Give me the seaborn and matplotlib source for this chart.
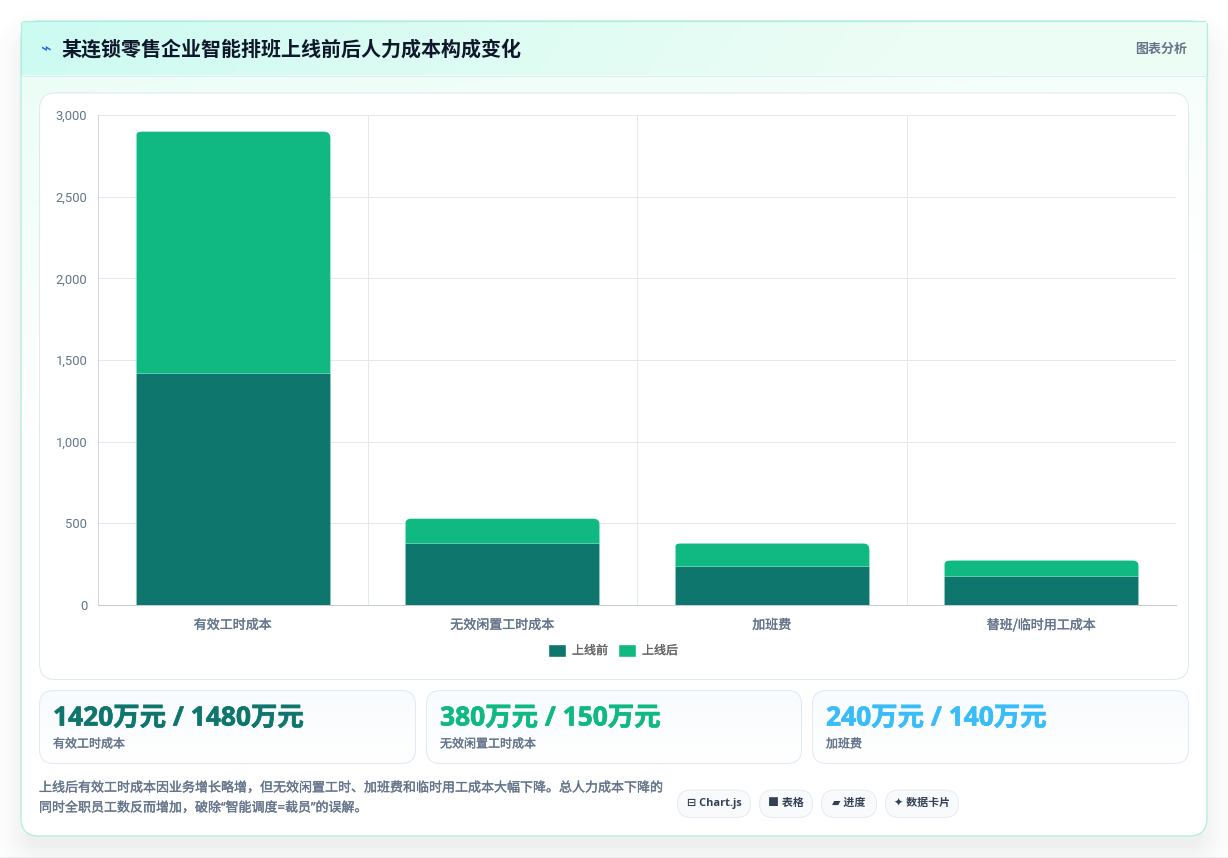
import numpy as np
import seaborn as sns
import matplotlib
matplotlib.use("Agg")
import matplotlib.pyplot as plt
import matplotlib.patheffects as pe
from matplotlib.patches import FancyBboxPatch, Patch, Rectangle
from matplotlib.transforms import Affine2D

W, H = 1228, 858

# Cost items and values, in units of 10,000 yuan
categories = ["有效工时成本", "无效闲置工时成本", "加班费", "替班/临时用工成本"]
before_values = [1420, 380, 240, 180]
after_values = [1480, 150, 140, 95]
series_names = ["上线前", "上线后"]
y_ticks = [0, 500, 1000, 1500, 2000, 2500, 3000]

title_text = "某连锁零售企业智能排班上线前后人力成本构成变化"
header_tag = "图表分析"
card_values = ["1420万元 / 1480万元", "380万元 / 150万元", "240万元 / 140万元"]
card_names = ["有效工时成本", "无效闲置工时成本", "加班费"]
note_lines = [
    "上线后有效工时成本因业务增长略增，但无效闲置工时、加班费和临时用工成本大幅下降。总人力成本下降的",
    "同时全职员工数反而增加，破除“智能调度=裁员”的误解。",
]
pill_labels = ["⊟ Chart.js", "■ 表格", "▰ 进度", "✦ 数据卡片"]

TEAL = "#0f766e"
GREEN = "#10b981"
SKY = "#38bdf8"
SLATE = "#64748b"
INK = "#0f172a"
GRID = "#e2e8ec"
BORDER = "#aeefe1"

sns.set_theme(style="white")
CJK = ["Noto Sans CJK SC", "DejaVu Sans"]
LATIN_CJK = ["Open Sans", "Noto Sans CJK SC", "DejaVu Sans"]
plt.rcParams["font.family"] = CJK
PX = 0.72  # points per pixel at 100 dpi

fig = plt.figure(figsize=(W / 100, H / 100), dpi=100, facecolor="white")

# Page layer, addressed in pixels
bg = fig.add_axes([0, 0, 1, 1])
bg.set_xlim(0, W)
bg.set_ylim(H, 0)
bg.axis("off")


def rounded(x0, y0, x1, y1, r, **kw):
    return FancyBboxPatch((x0 + r, y0 + r), x1 - x0 - 2 * r, y1 - y0 - 2 * r,
                          boxstyle=f"round,pad={r},rounding_size={r}", **kw)


def blend(c0, c1, t):
    c0 = np.array(matplotlib.colors.to_rgb(c0))
    c1 = np.array(matplotlib.colors.to_rgb(c1))
    return c0[None, None, :] * (1 - t[..., None]) + c1[None, None, :] * t[..., None]


def heavier(colour, width=0.22):
    # Slightly thickens regular CJK text to a medium weight
    return [pe.withStroke(linewidth=width, foreground=colour)]


# Soft drop shadow under the card
yy, xx = np.mgrid[0:H, 0:W]
cx, cy, hw, hh, rad = 614, 438, 593, 407, 18
qx = np.abs(xx + 0.5 - cx) - (hw - rad)
qy = np.abs(yy + 0.5 - (cy + 8)) - (hh - rad)
dist = np.hypot(np.maximum(qx, 0), np.maximum(qy, 0)) + np.minimum(np.maximum(qx, qy), 0) - rad
shadow = np.clip(1 - (dist + 8) / 48, 0, 1) ** 2 * 0.08
rgba = np.zeros((H, W, 4))
rgba[..., :3] = matplotlib.colors.to_rgb("#2f3438")
rgba[..., 3] = shadow
bg.imshow(rgba, extent=(0, W, H, 0), aspect="auto", zorder=0, interpolation="bilinear")
bg.add_patch(Rectangle((0, 856.5), W, 1.5, fc="#e9edf3", ec="none", zorder=0.5))

# Card body with a faint diagonal mint wash
t = np.clip(((xx - 21) / 1186 * 0.35 + (yy - 21) / 815 * 1.6) / 0.8, 0, 1)
body = bg.imshow(blend("#e9fdf5", "#ffffff", t), extent=(0, W, H, 0), aspect="auto", zorder=1)
card_clip = rounded(21, 21, 1207, 836, 18, transform=bg.transData, fc="none", ec="none")
bg.add_patch(card_clip)
body.set_clip_path(card_clip)
bg.add_patch(rounded(21, 21, 1207, 836, 18, fc="none", ec=BORDER, lw=0.9, zorder=1.5))

# Header band gradient, square at the top corners
tx = np.clip((xx - 21) / 1186 + (yy - 21) / 1500, 0, 1)
head = bg.imshow(blend("#ccfbf1", "#ecfdf5", np.clip(tx / 0.75, 0, 1)), extent=(0, W, H, 0),
                 aspect="auto", zorder=2)
head_clip = rounded(21, 21, 1207, 75, 2, transform=bg.transData, fc="none", ec="none")
bg.add_patch(head_clip)
head.set_clip_path(head_clip)
bg.set_xlim(0, W)
bg.set_ylim(H, 0)
bg.plot([21, 1207], [75.5, 75.5], color="#d8eef2", lw=0.72, zorder=3)
bg.plot([23, 1205], [21, 21], color=BORDER, lw=0.9, zorder=3)
bg.plot([21, 21], [23, 75], color=BORDER, lw=0.9, zorder=3)
bg.plot([1207, 1207], [23, 75], color=BORDER, lw=0.9, zorder=3)

# Header text
bg.text(40, 50, "⌁", color="#2563eb", fontsize=18 * PX, family=["DejaVu Sans"], ha="left", va="center", zorder=5)
bg.text(61, 49.5, title_text, color=INK, fontsize=20 * PX, fontweight="bold", ha="left", va="center", zorder=5)
bg.text(1187, 48.5, header_tag, color=SLATE, fontsize=13 * PX, fontweight="bold", ha="right", va="center", zorder=5)

# Chart panel
bg.add_patch(rounded(39.5, 93, 1188.5, 679.5, 16, fc="white", ec="#dcebf0", lw=0.72, zorder=3))

# Stat cards
card_boxes = [(39.5, 415.5), (426.5, 801.5), (812.5, 1188.5)]
card_colors = [TEAL, GREEN, SKY]
for (x0, x1), value, name, colour in zip(card_boxes, card_values, card_names, card_colors):
    patch = rounded(x0, 690.5, x1, 763.5, 14, fc="none", ec="#dfeaf6", lw=0.72, zorder=4)
    bg.add_patch(patch)
    shade = bg.imshow(blend("#f8fbfe", "#ffffff", np.clip((yy - 690) / 73, 0, 1)),
                      extent=(0, W, H, 0), aspect="auto", zorder=3)
    shade.set_clip_path(patch)
    bg.text(x0 + 13.5, 718, value, color=colour, fontsize=26.4 * PX, fontweight="bold",
            family=LATIN_CJK, ha="left", va="center", zorder=5, path_effects=heavier(colour, 0.5))
    bg.text(x0 + 13.5, 744, name, color=SLATE, fontsize=12 * PX, ha="left", va="center", zorder=5,
            path_effects=heavier(SLATE))
bg.set_xlim(0, W)
bg.set_ylim(H, 0)

# Closing note
for y, line in zip([788, 808], note_lines):
    bg.text(39, y, line, color=SLATE, fontsize=13 * PX, family=LATIN_CJK, ha="left", va="center", zorder=5,
            path_effects=heavier(SLATE))

# Technology pills
pill_boxes = [(677.5, 750.5), (759.5, 812.5), (821.5, 876.5), (885.5, 958.5)]
for (x0, x1), label in zip(pill_boxes, pill_labels):
    bg.add_patch(rounded(x0, 790, x1, 817.5, 13.7, fc="#f8fafc", ec="#e6ecf3", lw=0.72, zorder=4))
    bg.text((x0 + x1) / 2, 803.5, label, color="#334155", fontsize=11 * PX, fontweight="bold",
            family=LATIN_CJK, ha="center", va="center", zorder=5)

# Stacked bars
ax = fig.add_axes([98 / W, 1 - 605 / H, (1176 - 98) / W, (605 - 115) / H], facecolor="none")
edge = (0.6, 0.96, 0.89, 0.22)
sns.barplot(x=categories, y=before_values, color=TEAL, saturation=1, width=0.72, ax=ax,
            legend=False, edgecolor=edge, linewidth=0.72)
sns.barplot(x=categories, y=after_values, bottom=before_values, color=GREEN, saturation=1,
            width=0.72, ax=ax, legend=False, edgecolor=edge, linewidth=0.72)
ax.set_xlim(-0.5, 3.5)
ax.set_ylim(0, 3000)

# Round only the top corners of the upper segments
n = len(categories)
unit_x = 269.5
unit_y = 490 / 3000
for bar in ax.patches[n:]:
    x0, w = bar.get_x(), bar.get_width()
    y0, h = bar.get_y(), bar.get_height()
    clip = FancyBboxPatch((-1, 0), w * unit_x + 2, h * unit_y + 10,
                          boxstyle="round,pad=0,rounding_size=8",
                          transform=Affine2D().translate(98 + (x0 + 0.5) * unit_x,
                                                         H - 605 + y0 * unit_y - 10),
                          fc="none", ec="none")
    bar.set_clip_path(clip)

# Axes furniture in the style of the chart library
ax.set_yticks(y_ticks)
ax.set_yticklabels([f"{v:,}" for v in y_ticks], family=["Roboto"], fontsize=13 * PX, color=SLATE)
ax.set_xticks(range(n))
ax.set_xticklabels(categories, fontsize=13 * PX, color=SLATE, path_effects=heavier(SLATE))
ax.set_xticks([0.5, 1.5, 2.5, -0.5], minor=True)
ax.tick_params(axis="x", which="major", length=0, pad=10)
ax.tick_params(axis="x", which="minor", length=5.8, width=0.72, color=GRID)
ax.tick_params(axis="y", length=5.8, width=0.72, color=GRID, pad=2)
ax.set_axisbelow(True)
ax.grid(axis="y", color=GRID, lw=0.72)
ax.grid(axis="x", which="minor", color=GRID, lw=0.72)
ax.grid(axis="x", which="major", visible=False)
for side in ("top", "right"):
    ax.spines[side].set_visible(False)
ax.spines["left"].set_color("#cfd6dd")
ax.spines["left"].set_linewidth(0.72)
ax.spines["bottom"].set_color("#c4ccd4")
ax.spines["bottom"].set_linewidth(0.72)
ax.set_xlabel("")
ax.set_ylabel("")

handles = [Patch(facecolor=TEAL, label=series_names[0]), Patch(facecolor=GREEN, label=series_names[1])]
leg = ax.legend(handles=handles, loc="center", bbox_to_anchor=((613 - 98) / 1078, (605 - 650.5) / 490),
                ncol=2, frameon=False, prop={"family": CJK, "size": 12 * PX}, labelcolor="#666666",
                handlelength=18 / 12, handleheight=1.25, handletextpad=6 / 12,
                columnspacing=10 / 12, borderpad=0)
for label in leg.get_texts():
    label.set_path_effects(heavier("#666666"))

fig.savefig("out.png", dpi=100, facecolor="white")
